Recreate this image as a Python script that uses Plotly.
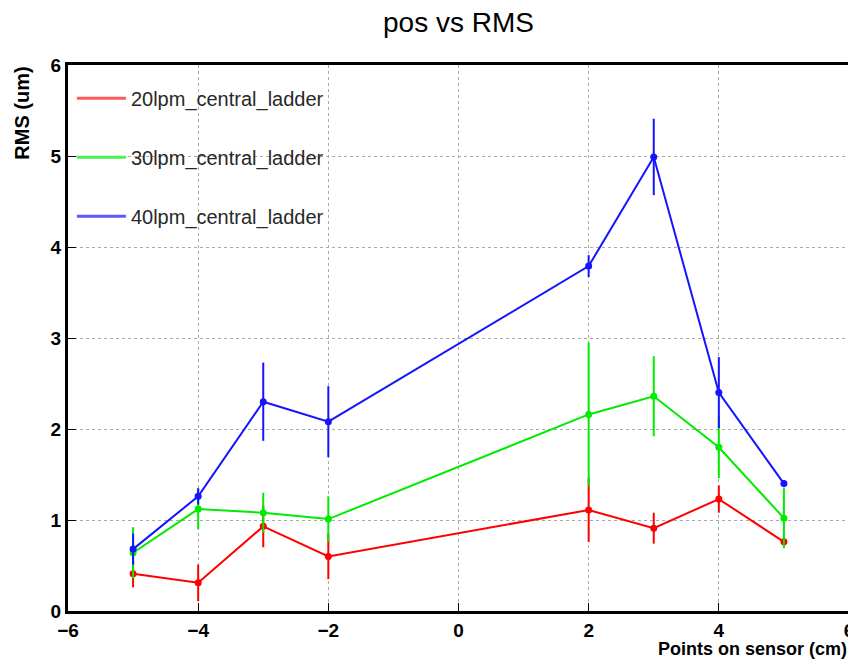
import plotly.graph_objects as go

x_pos = [-5, -4, -3, -2, 2, 3, 4, 5]

rms_20 = [0.41, 0.31, 0.93, 0.60, 1.11, 0.91, 1.23, 0.76]
err_20 = [0.15, 0.20, 0.23, 0.25, 0.35, 0.17, 0.15, 0.05]

rms_30 = [0.64, 1.12, 1.08, 1.01, 2.16, 2.36, 1.80, 1.02]
err_30 = [0.28, 0.22, 0.22, 0.25, 0.79, 0.44, 0.34, 0.33]

rms_40 = [0.68, 1.26, 2.30, 2.08, 3.79, 4.99, 2.40, 1.40]
err_40 = [0.17, 0.09, 0.43, 0.39, 0.12, 0.42, 0.39, 0.04]

names = ["20lpm_central_ladder", "30lpm_central_ladder", "40lpm_central_ladder"]
colors = ["rgb(255,0,0)", "rgb(0,235,0)", "rgb(20,20,255)"]
legend_colors = ["rgb(255,90,90)", "rgb(80,240,80)", "rgb(90,90,255)"]

x_ticks = [-6, -4, -2, 0, 2, 4, 6]
y_ticks = [0, 1, 2, 3, 4, 5, 6]

FONT = "Liberation Sans, Arial, Helvetica, sans-serif"

fig = go.Figure()
for ys, es, name, c in zip([rms_20, rms_30, rms_40], [err_20, err_30, err_40], names, colors):
    fig.add_trace(go.Scatter(
        x=x_pos, y=ys, mode="lines+markers", name=name, showlegend=False,
        line=dict(color=c, width=2),
        marker=dict(color=c, size=7),
        error_y=dict(type="data", array=es, visible=True, color=c, thickness=2, width=0),
    ))

for i, (name, c) in enumerate(zip(names, legend_colors)):
    fig.add_trace(go.Scatter(
        x=[None], y=[None], mode="lines", name=name, legendgroup=f"g{i}",
        line=dict(color=c, width=3),
    ))

axis_common = dict(
    showgrid=True, gridcolor="rgb(170,170,170)", griddash="dot", gridwidth=1,
    showline=True, linecolor="black", linewidth=3, mirror=True,
    ticks="inside", ticklen=8, tickcolor="black", zeroline=False,
    tickfont=dict(family=FONT, size=19, color="black", weight="bold"),
)

fig.update_layout(
    width=850, height=656,
    paper_bgcolor="white", plot_bgcolor="white",
    margin=dict(l=60, r=4, t=57, b=53),
    title=dict(text="pos vs RMS", x=0.53, xanchor="center", y=1 - 14 / 656, yanchor="middle",
               font=dict(family=FONT, size=28, color="black")),
    xaxis=dict(range=[-6, 6], tickvals=x_ticks, **axis_common),
    yaxis=dict(range=[0, 6], tickvals=y_ticks, **axis_common),
    legend=dict(x=0.005, y=0.975, xanchor="left", yanchor="top",
                bgcolor="rgba(0,0,0,0)", borderwidth=0,
                font=dict(family=FONT, size=20, color="rgb(40,40,40)"),
                tracegroupgap=30, traceorder="grouped", itemwidth=49),
    font=dict(family=FONT),
    annotations=[
        dict(text="Points on sensor (cm)", xref="paper", yref="paper", x=1.0, y=-0.048,
             xanchor="right", yanchor="top", showarrow=False,
             font=dict(family=FONT, size=18, color="black", weight="bold")),
        dict(text="RMS (um)", xref="paper", yref="paper", x=-0.06, y=1.0,
             xanchor="center", yanchor="top", textangle=-90, showarrow=False,
             font=dict(family=FONT, size=20, color="black", weight="bold")),
    ],
)

fig.write_html("out.html")
